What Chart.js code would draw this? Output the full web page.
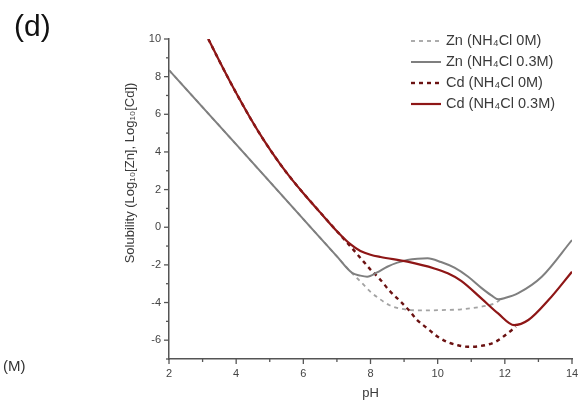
<!DOCTYPE html>
<html>
<head>
<meta charset="utf-8">
<script src="https://cdn.jsdelivr.net/npm/chart.js@4/dist/chart.umd.min.js"></script>
<style>
  html, body { margin: 0; padding: 0; background: #fff; }
  canvas { display: block; }
</style>
</head>
<body>
<canvas id="solubilityChart" width="587" height="405"></canvas>
<script>
// pH / log10 solubility values
const znPh0 = [2, 4, 6, 7, 7.45, 7.7, 8.0, 8.25, 8.55, 8.85, 9.2, 9.6, 10.1, 10.7, 11.3, 11.7, 11.85];
const znSol0 = [8.35, 4.4, 0.43, -1.55, -2.44, -2.88, -3.43, -3.78, -4.13, -4.31, -4.4, -4.42, -4.4, -4.36, -4.22, -4.04, -3.87];

const znPh03 = [2, 4, 6, 7, 7.45, 7.7, 7.9, 8.2, 8.5, 8.8, 9.1, 9.4, 9.7, 10.1, 10.5, 10.9, 11.3, 11.6, 11.8, 12.0, 12.4, 13.1, 14];
const znSol03 = [8.35, 4.4, 0.43, -1.55, -2.42, -2.57, -2.63, -2.4, -2.1, -1.88, -1.74, -1.67, -1.65, -1.85, -2.15, -2.62, -3.22, -3.62, -3.83, -3.76, -3.5, -2.63, -0.68];

const cdPh0 = [3.17, 3.5, 3.82, 4.1, 4.42, 4.7, 5.01, 5.3, 5.61, 6.0, 6.5, 7.0, 7.4, 7.7, 8.0, 8.3, 8.55, 8.85, 9.14, 9.39, 9.69, 9.99, 10.29, 10.6, 10.9, 11.28, 11.73, 12.08, 12.33];
const cdSol0 = [10, 8.83, 7.73, 6.81, 5.8, 4.97, 4.12, 3.38, 2.65, 1.81, 0.79, -0.21, -1.01, -1.63, -2.25, -2.8, -3.34, -3.87, -4.4, -4.93, -5.37, -5.8, -6.1, -6.27, -6.35, -6.31, -6.08, -5.64, -5.29];

const cdPh03 = [3.17, 3.5, 3.82, 4.1, 4.42, 4.7, 5.01, 5.3, 5.61, 6.0, 6.5, 7.0, 7.4, 7.7, 8.0, 8.3, 9.1, 9.9, 10.3, 10.7, 11.3, 11.8, 12.28, 12.7, 13.3, 14];
const cdSol03 = [10, 8.83, 7.73, 6.81, 5.8, 4.97, 4.12, 3.38, 2.65, 1.81, 0.79, -0.21, -0.9, -1.26, -1.46, -1.58, -1.83, -2.19, -2.45, -2.85, -3.78, -4.58, -5.2, -4.93, -3.87, -2.36];

const legendLabels = ['Zn (NH\u2084Cl 0M)', 'Zn (NH\u2084Cl 0.3M)', 'Cd (NH\u2084Cl 0M)', 'Cd (NH\u2084Cl 0.3M)'];
const xTicksMin = 2, xTicksMax = 14;
const yTicksMin = -7, yTicksMax = 10;

const FONT = '"Liberation Sans", Arial, Helvetica, sans-serif';

function toPoints(xs, ys) {
  return xs.map((x, i) => ({ x: x, y: ys[i] }));
}

// draws tick marks (long at labelled ticks), the legend and the loose texts
const decorPlugin = {
  id: 'decor',
  afterDraw(chart) {
    const ctx = chart.ctx;
    const xs = chart.scales.x;
    const ys = chart.scales.y;
    const area = chart.chartArea;

    ctx.save();
    ctx.strokeStyle = '#555';
    ctx.lineWidth = 1.3;
    xs.ticks.forEach(t => {
      const px = xs.getPixelForValue(t.value);
      const len = t.value % 2 === 0 ? 5 : 3;
      ctx.beginPath();
      ctx.moveTo(px, area.bottom);
      ctx.lineTo(px, area.bottom + len);
      ctx.stroke();
    });
    ys.ticks.forEach(t => {
      const py = ys.getPixelForValue(t.value);
      const len = t.value % 2 === 0 ? 5 : 3;
      ctx.beginPath();
      ctx.moveTo(area.left, py);
      ctx.lineTo(area.left - len, py);
      ctx.stroke();
    });

    // legend
    chart.data.datasets.forEach((ds, row) => {
      const y = 41 + row * 21;
      ctx.beginPath();
      ctx.setLineDash(ds.borderDash || []);
      ctx.strokeStyle = ds.borderColor;
      ctx.lineWidth = ds.borderWidth;
      ctx.moveTo(411, y);
      ctx.lineTo(441, y);
      ctx.stroke();
      ctx.setLineDash([]);
      ctx.fillStyle = '#3a3a3a';
      ctx.font = '14.5px ' + FONT;
      ctx.textAlign = 'left';
      ctx.textBaseline = 'middle';
      ctx.fillText(legendLabels[row], 446, y);
    });

    // y axis title
    ctx.save();
    ctx.translate(130, 173);
    ctx.rotate(-Math.PI / 2);
    ctx.fillStyle = '#3a3a3a';
    ctx.font = '13px ' + FONT;
    ctx.textAlign = 'center';
    ctx.textBaseline = 'middle';
    ctx.fillText('Solubility (Log\u2081\u2080[Zn], Log\u2081\u2080[Cd])', 0, 0);
    ctx.restore();

    // panel label and stray unit
    ctx.fillStyle = '#111';
    ctx.textAlign = 'left';
    ctx.textBaseline = 'alphabetic';
    ctx.font = '30px ' + FONT;
    ctx.fillText('(d)', 14, 36);
    ctx.fillStyle = '#333';
    ctx.font = '15px ' + FONT;
    ctx.fillText('(M)', 3, 371);
    ctx.restore();
  }
};

const ctx = document.getElementById('solubilityChart').getContext('2d');
new Chart(ctx, {
  type: 'line',
  data: {
    datasets: [
      {
        label: legendLabels[0],
        data: toPoints(znPh0, znSol0),
        borderColor: '#a3a3a3',
        borderWidth: 1.8,
        borderDash: [4, 4],
        order: 2
      },
      {
        label: legendLabels[1],
        data: toPoints(znPh03, znSol03),
        borderColor: '#7f7f7f',
        borderWidth: 2,
        order: 1
      },
      {
        label: legendLabels[2],
        data: toPoints(cdPh0, cdSol0),
        borderColor: '#6b1212',
        borderWidth: 2.4,
        borderDash: [4, 4],
        order: 2
      },
      {
        label: legendLabels[3],
        data: toPoints(cdPh03, cdSol03),
        borderColor: '#8e1616',
        borderWidth: 2.2,
        order: 0
      }
    ]
  },
  options: {
    responsive: false,
    animation: false,
    devicePixelRatio: 1,
    parsing: false,
    elements: {
      point: { radius: 0 },
      line: { cubicInterpolationMode: 'monotone', fill: false }
    },
    layout: { padding: { left: 0, right: 15, top: 39, bottom: 0 } },
    plugins: {
      legend: { display: false },
      tooltip: { enabled: false }
    },
    scales: {
      x: {
        type: 'linear',
        min: xTicksMin,
        max: xTicksMax,
        afterFit: s => { s.height = 46; },
        grid: { display: true, drawOnChartArea: false, color: 'rgba(0,0,0,0)', tickLength: 5 },
        border: { display: true, color: '#555', width: 1.5 },
        ticks: {
          stepSize: 1,
          autoSkip: false,
          maxRotation: 0,
          padding: 3,
          color: '#444',
          font: { family: FONT, size: 11 },
          callback: v => (v % 2 === 0 ? String(v) : '')
        },
        title: {
          display: true,
          text: 'pH',
          color: '#3a3a3a',
          font: { family: FONT, size: 13 },
          padding: { top: 0, bottom: 4 }
        }
      },
      y: {
        type: 'linear',
        min: yTicksMin,
        max: yTicksMax,
        afterFit: s => { s.width = 169; },
        grid: { display: true, drawOnChartArea: false, color: 'rgba(0,0,0,0)', tickLength: 5 },
        border: { display: true, color: '#555', width: 1.5 },
        ticks: {
          stepSize: 1,
          autoSkip: false,
          padding: 3,
          color: '#444',
          font: { family: FONT, size: 11 },
          callback: v => (v % 2 === 0 ? String(v) : '')
        }
      }
    }
  },
  plugins: [decorPlugin]
});
</script>
</body>
</html>
